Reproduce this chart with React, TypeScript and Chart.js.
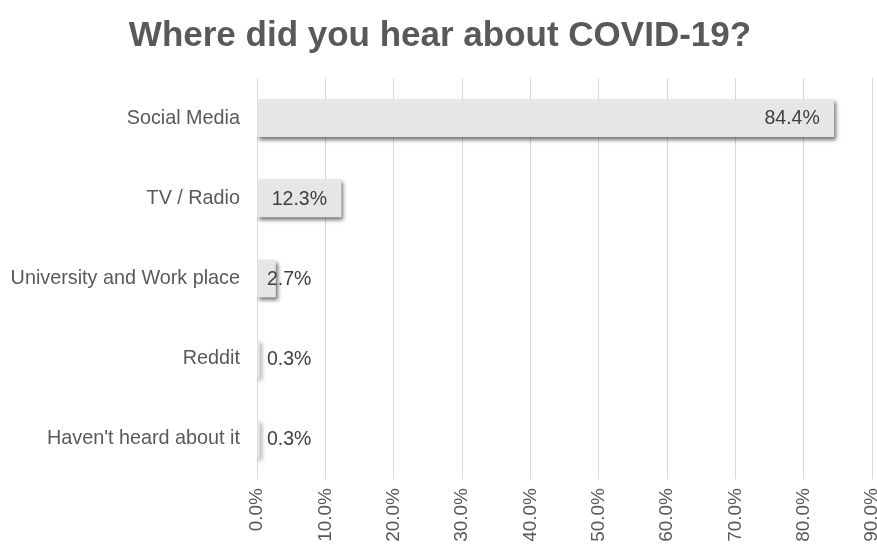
import React, { useEffect, useRef } from "react";
import { Chart, registerables } from "chart.js";

Chart.register(...registerables);

const categories = [
  "Social Media",
  "TV / Radio",
  "University and Work place",
  "Reddit",
  "Haven't heard about it",
];
const values = [84.4, 12.3, 2.7, 0.3, 0.3];
const tickValues = [0, 10, 20, 30, 40, 50, 60, 70, 80, 90];
const titleText = "Where did you hear about COVID-19?";

const FONT = "'Liberation Sans', Arial, Helvetica, sans-serif";

const shadowAndLabels = {
  id: "shadowAndLabels",
  beforeDatasetsDraw(chart: any) {
    const ctx = chart.ctx;
    ctx.save();
    ctx.shadowColor = "rgba(0,0,0,0.55)";
    ctx.shadowBlur = 4;
    ctx.shadowOffsetX = 2;
    ctx.shadowOffsetY = 3;
  },
  afterDatasetsDraw(chart: any) {
    const ctx = chart.ctx;
    ctx.restore();
    const meta = chart.getDatasetMeta(0);
    const xScale = chart.scales.x;
    const base = xScale.getPixelForValue(0);
    ctx.save();
    ctx.font = `19.5px ${FONT}`;
    ctx.fillStyle = "#404040";
    ctx.textBaseline = "middle";
    meta.data.forEach((bar: any, i: number) => {
      const v = values[i];
      const label = `${v.toFixed(1)}%`;
      if (v >= 10) {
        ctx.textAlign = "right";
        ctx.fillText(label, bar.x - 14, bar.y + 1);
      } else {
        ctx.textAlign = "left";
        ctx.fillText(label, base + 10, bar.y + 1);
      }
    });
    ctx.restore();
  },
};

export default function App() {
  const ref = useRef<HTMLCanvasElement | null>(null);
  useEffect(() => {
    if (!ref.current) return;
    const chart = new Chart(ref.current, {
      type: "bar",
      data: {
        labels: categories,
        datasets: [
          {
            data: values,
            backgroundColor: "#e6e6e6",
            borderWidth: 0,
            barThickness: 37,
          },
        ],
      },
      options: {
        indexAxis: "y",
        animation: false,
        responsive: true,
        maintainAspectRatio: false,
        layout: { padding: { left: 8, right: 5, top: 0, bottom: 0 } },
        plugins: {
          legend: { display: false },
          tooltip: { enabled: false },
          title: {
            display: true,
            text: titleText,
            color: "#595959",
            font: { family: FONT, size: 35, weight: "bold" },
            padding: { top: 15, bottom: 21 },
          },
        },
        scales: {
          x: {
            min: 0,
            max: 90,
            afterBuildTicks: (scale: any) => {
              scale.ticks = tickValues.map((v) => ({ value: v }));
            },
            afterFit: (scale: any) => {
              scale.height = 65;
              scale.paddingLeft = 0;
              scale.paddingRight = 0;
            },
            grid: { color: "#d9d9d9", lineWidth: 1, drawTicks: false },
            border: { display: false },
            ticks: {
              autoSkip: false,
              minRotation: 90,
              maxRotation: 90,
              padding: 9,
              color: "#595959",
              font: { family: FONT, size: 19 },
              callback: (v: any) => `${Number(v).toFixed(1)}%`,
            },
          },
          y: {
            afterFit: (scale: any) => {
              scale.width = 249;
              scale.paddingTop = 0;
              scale.paddingBottom = 0;
            },
            grid: { display: false, drawTicks: false },
            border: { display: false },
            ticks: {
              padding: 17,
              color: "#595959",
              font: { family: FONT, size: 19.8 },
            },
          },
        },
      },
      plugins: [shadowAndLabels],
    } as any);
    return () => chart.destroy();
  }, []);
  return (
    <div
      style={{
        position: "absolute",
        left: 0,
        top: 0,
        width: 877,
        height: 544,
        background: "#ffffff",
      }}
    >
      <canvas ref={ref} />
    </div>
  );
}
